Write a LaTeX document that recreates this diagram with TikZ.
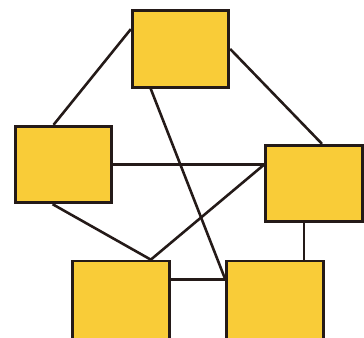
\documentclass[tikz,border=0pt]{standalone}
\usepackage{tikz}
\usetikzlibrary{calc}
\definecolor{boxyellow}{RGB}{249,204,56}
\definecolor{boxink}{RGB}{36,26,24}
\tikzset{
  block/.style={draw=boxink,line width=2.3pt,fill=boxyellow,
    minimum width=2.9cm,minimum height=2.3cm,inner sep=0pt},
  lowblock/.style={block,minimum height=2.4cm},
  link/.style={draw=boxink,line width=2.2pt}
}
\begin{document}
\begin{tikzpicture}[x=0.03cm,y=-0.03cm]
  \path[use as bounding box,clip] (0,0) rectangle (364,338);
  \node[block] (top) at (180.5,49) {};
  \node[block] (lft) at (63.5,164.5) {};
  \node[block] (rgt) at (314,183.5) {};
  \node[lowblock] (bL) at (121,301) {};
  \node[lowblock] (bR) at (275,301) {};
  \coordinate (rgtin) at ($(rgt.north west)!0.26!(rgt.south west)$);
  \coordinate (bLtop) at ($(bL.north west)!0.8!(bL.north east)$);
  \coordinate (rgtfoot) at ($(rgt.south west)!0.4!(rgt.south east)$);
  \draw[link] ($(top.north west)!0.25!(top.south west)$) -- ($(lft.north west)!0.4!(lft.north east)$);
  \draw[link] (top.east) -- ($(rgt.north west)!0.58!(rgt.north east)$);
  \draw[link] ($(top.south west)!0.2!(top.south east)$) -- ($(bR.north west)!0.24!(bR.south west)$);
  \draw[link] (lft.east |- rgtin) -- (rgtin);
  \draw[link] (rgtin) -- (bLtop);
  \draw[link] ($(lft.south west)!0.39!(lft.south east)$) -- (bLtop);
  \draw[link] (rgtfoot) -- (rgtfoot |- bR.north);
  \draw[link] ($(bL.north east)!0.24!(bL.south east)$) -- ($(bR.north west)!0.24!(bR.south west)$);
\end{tikzpicture}
\end{document}
